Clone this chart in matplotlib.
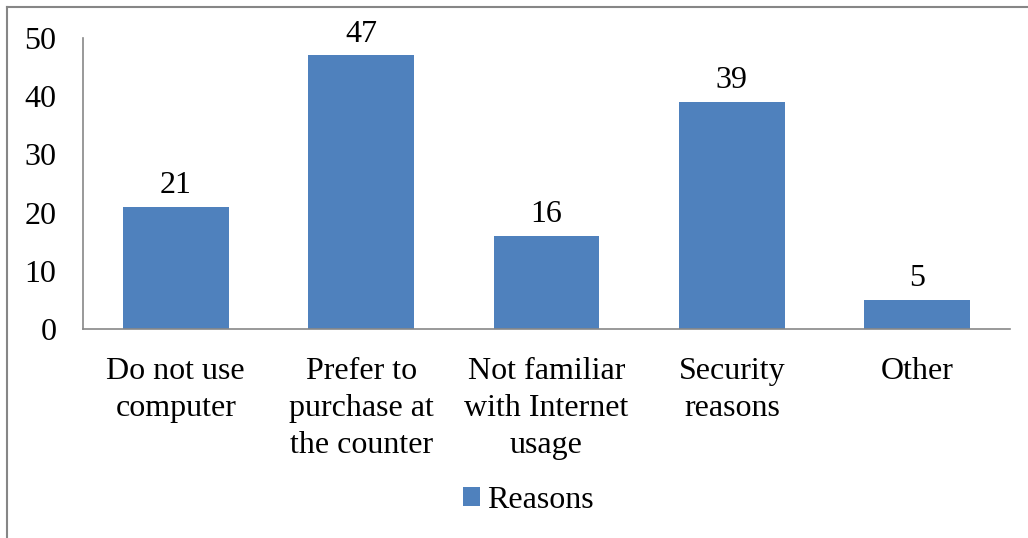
import matplotlib
matplotlib.use("Agg")
import matplotlib.pyplot as plt
from matplotlib.lines import Line2D

categories = ["Do not use\ncomputer", "Prefer to\npurchase at\nthe counter",
              "Not familiar\nwith Internet\nusage", "Security\nreasons", "Other"]
values = [21, 47, 16, 39, 5]
series_name = "Reasons"
yticks = [0, 10, 20, 30, 40, 50]

plt.rcParams['font.family'] = ['Liberation Serif', 'DejaVu Serif']
W, H = 1028, 538
FS = 23
fig = plt.figure(figsize=(W / 100, H / 100), dpi=100)
ax = fig.add_axes([83 / W, 1 - 329 / H, (1010 - 83) / W, (329 - 38) / H])

color = "#4F81BD"
x = list(range(len(values)))
bars = ax.bar(x, values, width=0.57, color=color, label=series_name)
for xi, v in zip(x, values):
    ax.annotate(str(v), (xi, v), xytext=(0, 5), textcoords="offset points",
                ha="center", va="bottom", fontsize=FS)

ax.set_xlim(-0.5, len(values) - 0.5)
ax.set_ylim(0, 50)
ax.set_yticks(yticks)
ax.set_yticklabels([str(t) for t in yticks], fontsize=FS)
ax.set_xticks(x)
ax.set_xticklabels(categories, fontsize=FS, linespacing=1.36, va="top")
ax.tick_params(axis="both", length=0)
ax.tick_params(axis="y", pad=19)
ax.tick_params(axis="x", pad=20)
for s in ["top", "right"]:
    ax.spines[s].set_visible(False)
for s in ["left", "bottom"]:
    ax.spines[s].set_color("#888888")
    ax.spines[s].set_linewidth(1.2)

leg = fig.legend(handles=[bars], labels=[series_name], loc="center",
                 bbox_to_anchor=(528 / W, 1 - 500 / H), frameon=False,
                 fontsize=FS, handlelength=0.55, handleheight=0.55, handletextpad=0.2)

# outer border (top and left visible)
fig.add_artist(Line2D([7 / W, 7 / W], [0, 1 - 7 / H], transform=fig.transFigure,
                      color="#868686", lw=1.5))
fig.add_artist(Line2D([7 / W, 1], [1 - 7 / H, 1 - 7 / H], transform=fig.transFigure,
                      color="#868686", lw=1.5))

fig.savefig("out.png", dpi=100)
